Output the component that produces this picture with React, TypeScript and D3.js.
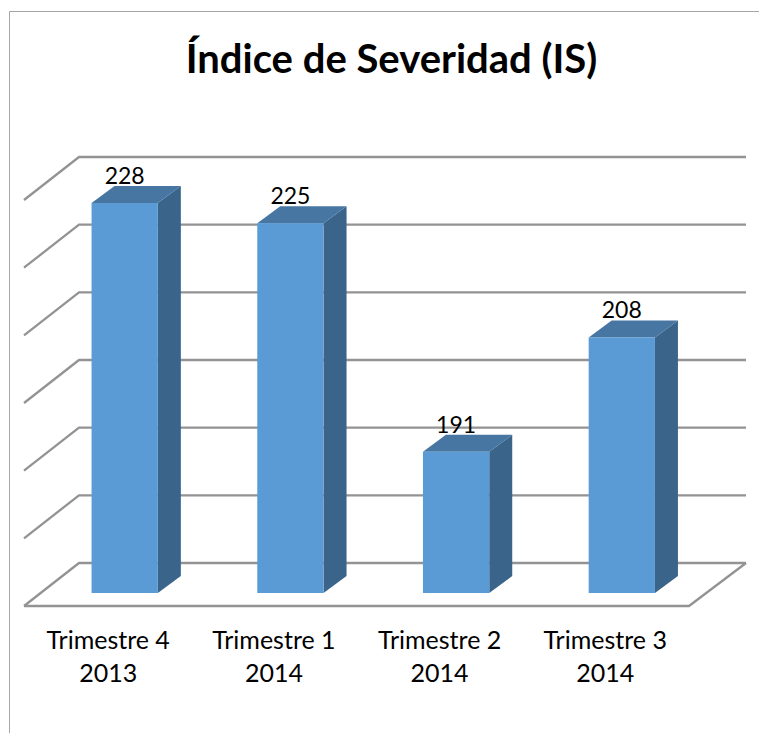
import React from "react";
import * as d3 from "d3";

const categories = ["Trimestre 4 2013", "Trimestre 1 2014", "Trimestre 2 2014", "Trimestre 3 2014"];
const categoryLines = [["Trimestre 4", "2013"], ["Trimestre 1", "2014"], ["Trimestre 2", "2014"], ["Trimestre 3", "2014"]];
const values = [228, 225, 191, 208];
const gridTicks = [170, 180, 190, 200, 210, 220, 230];
const title = "Índice de Severidad (IS)";

const W = 759, H = 733;
const font = "Lato, Carlito, Calibri, sans-serif";
const grid = "#939393";

// depth of the floor and of a bar, in projected pixels
const floorDx = 55, floorDy = 43;
const barDx = 23, barDy = 17;

const x = d3.scaleBand<string>().domain(categories).range([41.85, 704.65]).paddingInner(0.6).paddingOuter(0.3);
const yBar = d3.scaleLinear().domain([170, 228]).range([593, 203]);
const yWall = d3.scaleLinear().domain([170, 230]).range([563, 157]);

const pts = (p: number[][]) => p.map((q) => q.join(",")).join(" ");

export default function App() {
  const bw = x.bandwidth();
  const wallL = 79, wallR = 746;
  const line = d3.line();
  return (
    <svg width={W} height={H} style={{ position: "absolute", left: 0, top: 0, background: "#fff" }}>
      <path d="M9.5,733V11.5H759" fill="none" stroke="#a6a6a6" strokeWidth={1} />
      <text x={391.5} y={73} textAnchor="middle" fontFamily={font} fontWeight={700} fontSize={40} fill="#000">{title}</text>

      {gridTicks.map((t) => (
        <path key={t}
          d={line([[wallL - floorDx, yWall(t) + floorDy], [wallL, yWall(t)], [wallR, yWall(t)]]) as string}
          fill="none" stroke={grid} strokeWidth={2.3} />
      ))}
      <path
        d={line([[wallL - floorDx, yWall(170) + floorDy], [wallR - floorDx - 2, yWall(170) + floorDy], [wallR, yWall(170)]]) as string}
        fill="none" stroke={grid} strokeWidth={2.3} />

      {categories.map((c, i) => {
        const x0 = x(c) as number, x1 = x0 + bw;
        const top = yBar(values[i]), base = yBar(170);
        return (
          <g key={c}>
            <polygon points={pts([[x1, top], [x1 + barDx, top - barDy], [x1 + barDx, base - barDy], [x1, base]])} fill="#3a6489" />
            <polygon points={pts([[x0, top], [x0 + barDx, top - barDy], [x1 + barDx, top - barDy], [x1, top]])} fill="#4776a3" />
            <rect x={x0} y={top} width={bw} height={base - top} fill="#5b9bd5" />
            <text x={x0 + bw / 2} y={top - 19} textAnchor="middle" fontFamily={font} fontSize={23} fill="#000">{values[i]}</text>
            {categoryLines[i].map((l, j) => (
              <text key={l} x={x0 + bw / 2 - 16.5} y={649 + j * 32.5} textAnchor="middle" fontFamily={font} fontSize={25} fill="#000">{l}</text>
            ))}
          </g>
        );
      })}
    </svg>
  );
}
